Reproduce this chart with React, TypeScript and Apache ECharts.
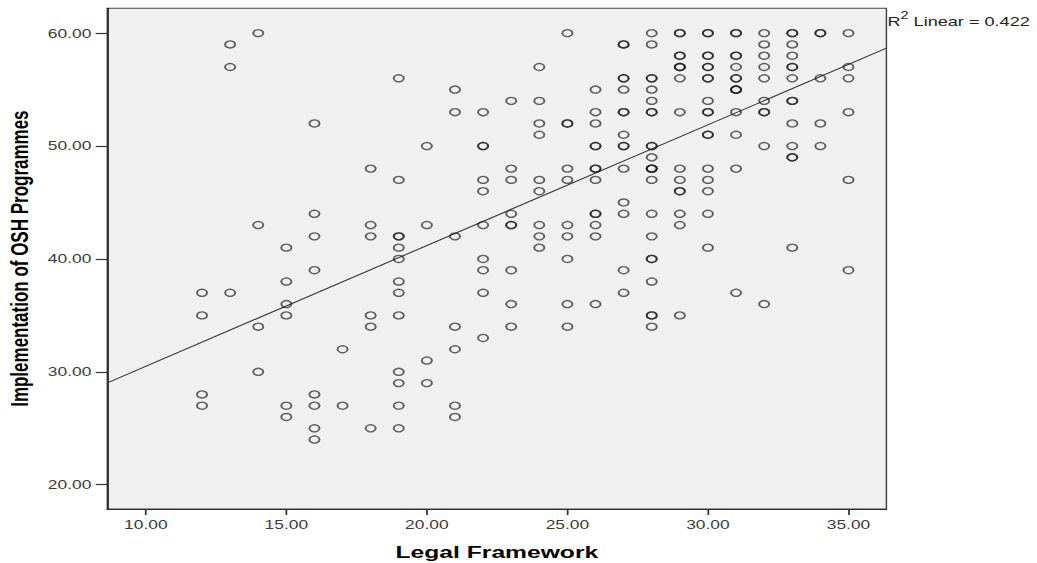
import { useEffect, useRef } from "react";
import * as echarts from "echarts";

// Legal Framework score levels (x) and the OSH implementation scores observed at each level (y)
const xLevels = [12, 13, 14, 15, 16, 17, 18, 19, 20, 21, 22, 23, 24, 25, 26, 27, 28, 29, 30, 31, 32, 33, 34, 35];
const yByLevel: number[][] = [
  [37, 35, 28, 27],
  [59, 57, 37],
  [60, 43, 34, 30],
  [41, 38, 36, 35, 27, 26],
  [52, 44, 42, 39, 28, 27, 25, 24],
  [32, 27],
  [48, 43, 42, 35, 34, 25],
  [56, 47, 42, 42, 41, 40, 38, 37, 35, 30, 29, 27, 25],
  [50, 43, 31, 29],
  [55, 53, 42, 34, 32, 27, 26],
  [53, 50, 50, 47, 46, 43, 40, 39, 37, 33],
  [54, 48, 47, 44, 43, 43, 39, 36, 34],
  [57, 54, 52, 51, 47, 46, 43, 42, 41],
  [60, 52, 52, 48, 47, 43, 42, 40, 36, 34],
  [55, 53, 52, 50, 50, 48, 48, 47, 44, 44, 43, 42, 36],
  [59, 59, 56, 56, 55, 53, 53, 51, 50, 50, 48, 45, 44, 39, 37],
  [60, 59, 56, 56, 55, 54, 53, 53, 50, 50, 49, 48, 48, 48, 47, 44, 42, 40, 40, 38, 35, 35, 34],
  [60, 60, 58, 58, 57, 57, 57, 56, 53, 48, 47, 46, 46, 44, 43, 35],
  [60, 60, 58, 58, 57, 57, 56, 56, 54, 53, 53, 51, 51, 48, 47, 46, 44, 41],
  [60, 60, 58, 58, 57, 56, 56, 55, 55, 55, 53, 51, 48, 37],
  [60, 59, 58, 57, 56, 54, 53, 53, 50, 36],
  [60, 60, 59, 58, 57, 57, 56, 54, 54, 52, 50, 49, 49, 41],
  [60, 60, 56, 52, 50],
  [60, 57, 56, 53, 47, 39],
];

const xTicks = [10, 15, 20, 25, 30, 35];
const yTicks = [20, 30, 40, 50, 60];
const xRange = [8.63, 36.35];
const yRange = [17.85, 62.2];

// Fitted linear regression line
const fitIntercept = 19.8;
const fitSlope = 1.0693;
const rSquared = "0.422";

const xTitle = "Legal Framework";
const yTitle = "Implementation of OSH Programmes";

const STRETCH = 1.45;
const PAGE_W = 1037;
const PAGE_H = 563;
const FONT = '"Liberation Sans", Arial, sans-serif';

export default function App() {
  const ref = useRef<HTMLDivElement>(null);

  useEffect(() => {
    if (!ref.current) return;
    const chart = echarts.init(ref.current, null, { renderer: "svg" });
    const points = xLevels.flatMap((x, i) => yByLevel[i].map((y) => [x, y]));
    const fitLine = xRange.map((x) => [x, fitIntercept + fitSlope * x]);
    const innerW = PAGE_W / STRETCH;
    const gridLeft = 74;
    const gridRight = innerW - 611.5;

    chart.setOption({
      animation: false,
      backgroundColor: "#ffffff",
      grid: {
        left: gridLeft,
        right: gridRight,
        top: 8.3,
        bottom: 54,
        show: true,
        backgroundColor: "#f0f0f0",
        borderColor: "#444",
        borderWidth: 1,
        containLabel: false,
        outerBoundsMode: "none",
      },
      xAxis: {
        type: "value",
        min: xRange[0],
        max: xRange[1],
        name: xTitle,
        nameLocation: "middle",
        nameGap: 34,
        nameTextStyle: {
          fontFamily: FONT,
          fontSize: 17,
          fontWeight: "bold",
          color: "#000",
        },
        axisLine: { show: true, onZero: false, lineStyle: { color: "#2a2a2a", width: 1.2 } },
        axisTick: { show: true, length: 6, customValues: xTicks, lineStyle: { color: "#333", width: 1.2 } },
        axisLabel: {
          customValues: xTicks,
          margin: 10,
          fontFamily: FONT,
          fontSize: 12,
          color: "#3c3c3c",
          formatter: (v: number) => v.toFixed(2),
        },
        splitLine: { show: false },
      },
      yAxis: {
        type: "value",
        min: yRange[0],
        max: yRange[1],
        name: yTitle,
        nameLocation: "middle",
        nameGap: 50,
        nameTextStyle: {
          fontFamily: FONT,
          fontSize: 17,
          fontWeight: "bold",
          color: "#000",
        },
        axisLine: { show: true, onZero: false, lineStyle: { color: "#2a2a2a", width: 1.2 } },
        axisTick: { show: true, length: 8, customValues: yTicks, lineStyle: { color: "#333", width: 1.2 } },
        axisLabel: {
          customValues: yTicks,
          margin: 11,
          fontFamily: FONT,
          fontSize: 12,
          color: "#3c3c3c",
          formatter: (v: number) => v.toFixed(2),
        },
        splitLine: { show: false },
      },
      graphic: [
        {
          type: "text",
          left: 612,
          top: 11,
          style: {
            text: `{a|R}{s|2}{a| Linear = ${rSquared}}`,
            rich: {
              a: { fontFamily: FONT, fontSize: 12.5, fill: "#222", color: "#222", lineHeight: 17, verticalAlign: "bottom" },
              s: { fontFamily: FONT, fontSize: 10, fill: "#222", color: "#222", lineHeight: 17, verticalAlign: "top" },
            },
          },
        },
      ],
      series: [
        {
          type: "line",
          data: fitLine,
          showSymbol: false,
          silent: true,
          z: 1,
          lineStyle: { color: "#333", width: 1 },
        },
        {
          type: "scatter",
          data: points,
          symbol: "circle",
          symbolSize: 7,
          z: 2,
          itemStyle: {
            color: "rgba(0,0,0,0)",
            borderColor: "rgba(25,25,25,0.85)",
            borderWidth: 1.35,
          },
        },
      ],
    });

    return () => chart.dispose();
  }, []);

  return (
    <div
      ref={ref}
      style={{
        position: "absolute",
        left: 0,
        top: 0,
        width: PAGE_W / STRETCH,
        height: PAGE_H,
        transform: `scaleX(${STRETCH})`,
        transformOrigin: "0 0",
      }}
    />
  );
}
